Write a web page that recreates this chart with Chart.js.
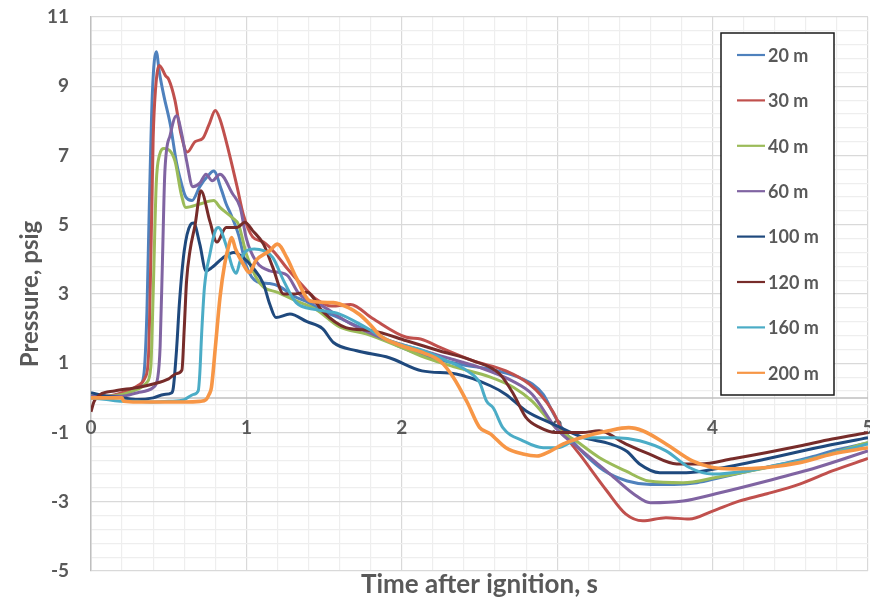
<!DOCTYPE html>
<html>
<head>
<meta charset="utf-8">
<script src="https://cdn.jsdelivr.net/npm/chart.js@4.4.1/dist/chart.umd.min.js"></script>
<style>
  body { margin: 0; background: #fff; }
</style>
</head>
<body>
<canvas id="myChart" width="870" height="606"></canvas>
<script>
// series names and colours (Excel palette)
const seriesLabels = ['20 m', '30 m', '40 m', '60 m', '100 m', '120 m', '160 m', '200 m'];
const seriesColors = ['#4F81BD', '#C0504D', '#9BBB59', '#8064A2', '#1F497D', '#772C2A', '#4BACC6', '#F79646'];
const xTickLabels = [0, 1, 2, 3, 4, 5];

// [time s, pressure psig]
const s20 = [[0,0.05],[0.1,0.05],[0.2,0.1],[0.28,0.25],[0.33,0.45],[0.345,0.9],[0.36,2.5],[0.375,5.5],[0.395,8.8],[0.42,10.0],[0.44,9.4],[0.47,8.7],[0.51,7.9],[0.55,6.8],[0.57,6.4],[0.61,5.8],[0.65,5.7],[0.7,6.1],[0.75,6.4],[0.79,6.55],[0.84,6.0],[0.87,5.6],[0.9,5.3],[0.95,4.7],[1.0,3.8],[1.07,3.35],[1.15,3.3],[1.22,3.2],[1.3,2.95],[1.4,2.75],[1.5,2.5],[1.6,2.3],[1.8,1.9],[2.0,1.45],[2.2,1.15],[2.4,0.95],[2.6,0.8],[2.75,0.6],[2.84,0.4],[2.91,0.1],[2.97,-0.4],[3.02,-0.8],[3.1,-1.25],[3.17,-1.6],[3.3,-2.1],[3.45,-2.4],[3.6,-2.5],[3.75,-2.5],[3.9,-2.45],[4.05,-2.3],[4.3,-2.05],[4.6,-1.75],[4.8,-1.5],[5.0,-1.3]];
const s30 = [[0,0.05],[0.1,0.05],[0.2,0.15],[0.3,0.35],[0.35,0.6],[0.37,1.2],[0.385,4.0],[0.4,7.5],[0.415,8.9],[0.44,9.6],[0.48,9.3],[0.5,9.2],[0.54,8.6],[0.58,7.6],[0.62,7.1],[0.67,7.4],[0.72,7.5],[0.76,7.9],[0.8,8.3],[0.83,8.05],[0.89,7.05],[0.94,6.1],[0.98,5.3],[1.04,4.65],[1.11,4.5],[1.19,4.15],[1.26,3.75],[1.37,3.2],[1.45,2.85],[1.55,2.65],[1.67,2.7],[1.81,2.3],[2.03,1.75],[2.12,1.7],[2.25,1.45],[2.46,1.07],[2.67,0.78],[2.82,0.4],[2.9,0.05],[2.97,-0.38],[3.04,-1.0],[3.16,-1.72],[3.32,-2.69],[3.44,-3.35],[3.55,-3.55],[3.7,-3.46],[3.85,-3.5],[4.0,-3.27],[4.17,-2.98],[4.35,-2.77],[4.56,-2.49],[4.77,-2.11],[5.0,-1.75]];
const s40 = [[0,0.05],[0.1,0.05],[0.2,0.1],[0.3,0.25],[0.36,0.45],[0.385,0.9],[0.4,3.0],[0.42,6.2],[0.44,7.0],[0.47,7.2],[0.54,6.85],[0.58,5.9],[0.61,5.5],[0.7,5.6],[0.79,5.7],[0.83,5.5],[0.91,5.2],[0.95,5.0],[1.0,4.15],[1.06,3.5],[1.11,3.2],[1.2,3.05],[1.32,2.8],[1.45,2.55],[1.6,2.05],[1.77,1.85],[2.0,1.45],[2.16,1.15],[2.35,0.88],[2.57,0.6],[2.72,0.3],[2.84,-0.1],[2.99,-0.86],[3.12,-1.24],[3.27,-1.72],[3.44,-2.11],[3.59,-2.4],[3.81,-2.45],[4.02,-2.3],[4.35,-2.01],[4.67,-1.72],[5.0,-1.29]];
const s60 = [[0,0.05],[0.1,0.05],[0.2,0.05],[0.3,0.15],[0.4,0.3],[0.43,0.6],[0.445,1.5],[0.46,4.0],[0.475,6.5],[0.51,7.6],[0.55,8.15],[0.585,7.6],[0.615,6.85],[0.655,6.1],[0.7,6.2],[0.74,6.46],[0.78,6.27],[0.83,6.46],[0.91,5.9],[0.96,5.5],[1.0,4.6],[1.06,3.96],[1.15,3.67],[1.26,3.55],[1.34,3.0],[1.49,2.65],[1.67,2.14],[1.86,1.75],[2.07,1.45],[2.29,1.16],[2.5,0.88],[2.71,0.49],[2.84,0.1],[2.99,-0.86],[3.16,-1.53],[3.34,-2.2],[3.49,-2.77],[3.6,-3.03],[3.81,-2.98],[4.02,-2.77],[4.35,-2.4],[4.67,-2.01],[5.0,-1.53]];
const s100 = [[0,0.15],[0.1,0.05],[0.2,0.0],[0.3,-0.05],[0.4,0.0],[0.47,0.1],[0.52,0.15],[0.53,0.3],[0.55,1.36],[0.57,2.8],[0.6,4.25],[0.64,5.0],[0.66,5.05],[0.7,4.44],[0.74,3.67],[0.78,3.77],[0.85,4.05],[0.92,4.2],[0.98,4.05],[1.04,3.77],[1.11,3.29],[1.15,2.71],[1.19,2.32],[1.28,2.42],[1.39,2.2],[1.49,2.0],[1.56,1.6],[1.71,1.36],[1.92,1.16],[2.13,0.78],[2.35,0.69],[2.57,0.35],[2.67,0.1],[2.8,-0.38],[2.97,-0.75],[3.17,-1.15],[3.34,-1.33],[3.45,-1.55],[3.53,-1.91],[3.66,-2.16],[3.83,-2.16],[4.02,-2.05],[4.35,-1.76],[4.67,-1.44],[5.0,-1.15]];
const s120 = [[0,-0.4],[0.02,-0.1],[0.06,0.1],[0.15,0.2],[0.3,0.3],[0.4,0.4],[0.5,0.55],[0.55,0.7],[0.585,0.8],[0.6,2.0],[0.615,3.38],[0.637,4.25],[0.67,5.0],[0.707,5.98],[0.765,5.1],[0.81,4.5],[0.87,4.92],[0.94,4.92],[0.99,5.07],[1.04,4.83],[1.11,4.44],[1.17,3.77],[1.24,3.0],[1.3,3.0],[1.39,3.05],[1.49,2.5],[1.64,2.03],[1.81,1.94],[2.03,1.65],[2.24,1.36],[2.46,1.07],[2.63,0.69],[2.72,0.1],[2.8,-0.57],[2.89,-0.86],[2.99,-1.0],[3.16,-1.0],[3.27,-0.95],[3.44,-1.33],[3.59,-1.62],[3.77,-1.91],[3.92,-1.91],[4.13,-1.76],[4.35,-1.58],[4.56,-1.39],[4.77,-1.19],[5.0,-1.0]];
const s160 = [[0,0.0],[0.1,-0.05],[0.2,-0.1],[0.3,-0.1],[0.4,-0.12],[0.5,-0.1],[0.6,-0.05],[0.66,0.1],[0.69,0.2],[0.7,0.69],[0.712,1.85],[0.73,3.19],[0.765,4.15],[0.8,4.83],[0.82,4.92],[0.87,4.4],[0.91,3.77],[0.935,3.6],[0.96,3.96],[1.0,4.25],[1.05,4.3],[1.11,4.25],[1.17,4.05],[1.24,3.38],[1.32,2.75],[1.45,2.55],[1.6,2.42],[1.77,2.03],[1.92,1.65],[2.14,1.36],[2.29,1.07],[2.42,0.78],[2.5,0.45],[2.545,-0.09],[2.59,-0.3],[2.65,-0.86],[2.78,-1.24],[2.91,-1.44],[3.0,-1.44],[3.16,-1.15],[3.38,-1.15],[3.53,-1.24],[3.7,-1.53],[3.85,-2.01],[4.0,-2.2],[4.22,-2.11],[4.45,-1.91],[4.67,-1.72],[5.0,-1.33]];
const s200 = [[0,0.0],[0.2,0.0],[0.21,-0.1],[0.3,-0.12],[0.4,-0.12],[0.5,-0.12],[0.6,-0.12],[0.7,-0.1],[0.74,-0.05],[0.76,0.1],[0.775,0.3],[0.8,1.45],[0.83,2.9],[0.86,3.86],[0.89,4.45],[0.905,4.63],[0.93,4.3],[0.98,3.86],[1.02,3.62],[1.06,3.96],[1.15,4.25],[1.2,4.44],[1.26,4.05],[1.32,3.48],[1.41,2.8],[1.56,2.75],[1.66,2.6],[1.73,2.4],[1.8,2.1],[1.86,1.8],[1.99,1.52],[2.14,1.3],[2.25,1.05],[2.33,0.6],[2.42,-0.12],[2.5,-0.85],[2.57,-1.04],[2.67,-1.44],[2.78,-1.62],[2.87,-1.68],[2.95,-1.55],[3.04,-1.33],[3.15,-1.15],[3.33,-0.95],[3.46,-0.86],[3.55,-0.95],[3.7,-1.33],[3.87,-1.82],[4.0,-2.01],[4.13,-2.05],[4.35,-2.01],[4.56,-1.87],[4.77,-1.62],[5.0,-1.44]];
const seriesData = [s20, s30, s40, s60, s100, s120, s160, s200];

const FONT = 'Lato, "Open Sans", sans-serif';
const TEXT = '#595959';

// x axis crosses at y = 0 like in Excel: line + labels under it
const zeroAxis = {
    id: 'zeroAxis',
    beforeDatasetsDraw(chart) {
        const {ctx, chartArea, scales} = chart;
        const y0 = scales.y.getPixelForValue(0);
        ctx.save();
        ctx.strokeStyle = '#bfbfbf';
        ctx.lineWidth = 1.5;
        ctx.beginPath();
        ctx.moveTo(chartArea.left, y0);
        ctx.lineTo(chartArea.right, y0);
        ctx.stroke();
        ctx.fillStyle = TEXT;
        ctx.font = 'bold 19px ' + FONT;
        ctx.textAlign = 'center';
        ctx.textBaseline = 'middle';
        for (const v of xTickLabels) {
            ctx.fillText(String(v), scales.x.getPixelForValue(v), y0 + 30);
        }
        ctx.restore();
    }
};

// boxed legend inside the plot, top right
const boxLegend = {
    id: 'boxLegend',
    afterDatasetsDraw(chart) {
        const {ctx, chartArea} = chart;
        const left = chartArea.right - 147, top = chartArea.top + 16;
        const w = 113, h = 362, rowH = 45.4;
        ctx.save();
        ctx.fillStyle = '#fff';
        ctx.fillRect(left, top, w, h);
        ctx.strokeStyle = '#1a1a1a';
        ctx.lineWidth = 1.5;
        ctx.strokeRect(left, top, w, h);
        ctx.font = 'bold 18px ' + FONT;
        ctx.textBaseline = 'middle';
        ctx.textAlign = 'left';
        chart.data.datasets.forEach((ds, i) => {
            const cy = top + 22 + i * rowH;
            ctx.strokeStyle = ds.borderColor;
            ctx.lineWidth = 2.2;
            ctx.beginPath();
            ctx.moveTo(left + 16, cy);
            ctx.lineTo(left + 44, cy);
            ctx.stroke();
            ctx.fillStyle = TEXT;
            ctx.fillText(ds.label, left + 47, cy + 1);
        });
        ctx.restore();
    }
};

const gridColor = c => c.index % 5 === 0 ? '#d9d9d9' : '#eeeeee';

const ctx = document.getElementById('myChart').getContext('2d');
const myChart = new Chart(ctx, {
    type: 'line',
    data: {
        datasets: seriesLabels.map((label, i) => ({
            label: label,
            data: seriesData[i].map(p => ({x: p[0], y: p[1]})),
            borderColor: seriesColors[i],
            borderWidth: i === 7 ? 3.6 : 3,
            pointRadius: 0,
            cubicInterpolationMode: 'monotone',
            order: 7 - i
        }))
    },
    options: {
        responsive: false,
        animation: false,
        layout: { padding: { left: 0, right: 2, top: 17, bottom: 0 } },
        plugins: {
            legend: { display: false },
            tooltip: { enabled: false }
        },
        scales: {
            x: {
                type: 'linear',
                min: 0,
                max: 5,
                afterFit: s => { s.height = 35; },
                ticks: { stepSize: 0.2, autoSkip: false, display: false },
                grid: { color: gridColor, lineWidth: 1.2, drawTicks: false },
                border: { display: false },
                title: {
                    display: true,
                    text: 'Time after ignition, s',
                    color: TEXT,
                    font: { family: FONT, size: 26, weight: 'bold' },
                    padding: { top: 0, bottom: 6 }
                }
            },
            y: {
                min: -5,
                max: 11,
                afterFit: s => { s.width = 91; s.paddingTop = 0; s.paddingBottom = 0; },
                ticks: {
                    stepSize: 0.4,
                    autoSkip: false,
                    padding: 22,
                    color: TEXT,
                    font: { family: FONT, size: 19, weight: 'bold' },
                    callback: (v, i) => i % 5 === 0 ? Math.round(v) : ''
                },
                grid: { color: gridColor, lineWidth: 1.2, drawTicks: false },
                border: { color: '#bfbfbf', width: 1.5 },
                title: {
                    display: true,
                    text: 'Pressure, psig',
                    color: TEXT,
                    font: { family: FONT, size: 24, weight: 'bold' },
                    padding: { top: 16, bottom: 0 }
                }
            }
        }
    },
    plugins: [zeroAxis, boxLegend]
});
</script>
</body>
</html>
